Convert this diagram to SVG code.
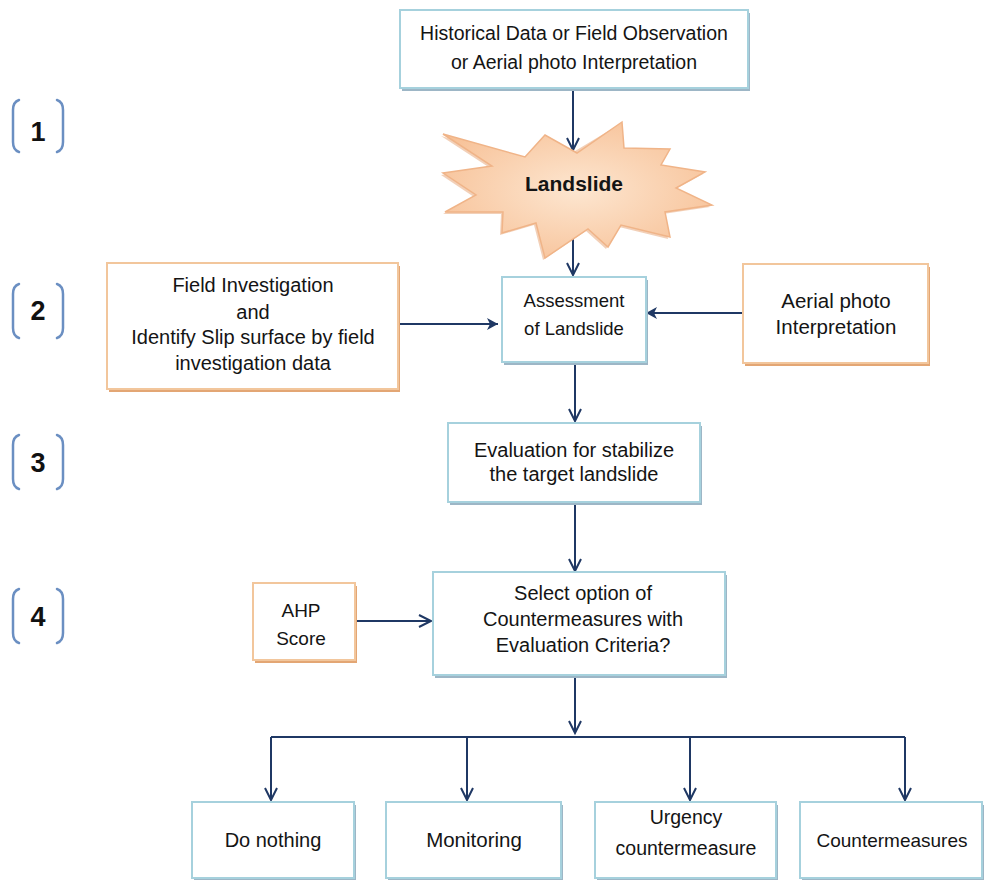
<svg xmlns="http://www.w3.org/2000/svg" width="984" height="880" viewBox="0 0 984 880">
<defs>
<style>
.t{font-family:"Liberation Sans",Arial,sans-serif;fill:#141414;text-anchor:middle}
.bb{fill:#ffffff;stroke:#a6d1dd;stroke-width:2}
.bs{fill:#9db6c6}
.ob{fill:#ffffff;stroke:#f2c69c;stroke-width:2}
.os{fill:#e3a674}
.c{fill:none;stroke:#1f3864;stroke-width:2}
.br{fill:none;stroke:#6b8fc2;stroke-width:2.5;stroke-linecap:round}
.num{font-family:"Liberation Sans",Arial,sans-serif;font-weight:bold;font-size:27px;fill:#111;text-anchor:middle}
</style>
<marker id="open" markerUnits="userSpaceOnUse" markerWidth="16" markerHeight="16" refX="13" refY="7" orient="auto">
<path d="M1,1 L13,7 L1,13" fill="none" stroke="#1f3864" stroke-width="2"/>
</marker>
<marker id="fill" markerUnits="userSpaceOnUse" markerWidth="14" markerHeight="14" refX="11" refY="6" orient="auto">
<path d="M0,0 L11,6 L0,12 L3,6 Z" fill="#1f3864"/>
</marker>
<radialGradient id="star" cx="50%" cy="50%" r="60%">
<stop offset="0" stop-color="#fde6d0"/>
<stop offset="1" stop-color="#f7c197"/>
</radialGradient>
<linearGradient id="bg" x1="0" y1="0" x2="0" y2="1">
<stop offset="0" stop-color="#ffffff"/>
<stop offset="1" stop-color="#f6f9fb"/>
</linearGradient>
</defs>
<rect width="984" height="880" fill="#ffffff"/>

<g id="brackets">
<path class="br" d="M19,100 Q13,102 13,110 L13,142 Q13,150 19,152"/>
<path class="br" d="M57,100 Q63,102 63,110 L63,142 Q63,150 57,152"/>
<text class="num" x="38" y="141">1</text>
<path class="br" d="M19,284 Q13,286 13,294 L13,328 Q13,336 19,338"/>
<path class="br" d="M57,284 Q63,286 63,294 L63,328 Q63,336 57,338"/>
<text class="num" x="38" y="320">2</text>
<path class="br" d="M19,435 Q13,437 13,445 L13,479 Q13,487 19,489"/>
<path class="br" d="M57,435 Q63,437 63,445 L63,479 Q63,487 57,489"/>
<text class="num" x="38" y="472">3</text>
<path class="br" d="M19,589 Q13,591 13,599 L13,633 Q13,641 19,643"/>
<path class="br" d="M57,589 Q63,591 63,599 L63,633 Q63,641 57,643"/>
<text class="num" x="38" y="626">4</text>
</g>

<g id="connectors">
<path class="c" d="M573,88 V150" marker-end="url(#open)"/>
<path class="c" d="M573,214 V275" marker-end="url(#open)"/>
<path class="c" d="M398,324 H498" marker-end="url(#fill)"/>
<path class="c" d="M743,313 H646" marker-end="url(#fill)"/>
<path class="c" d="M575,362 V421" marker-end="url(#open)"/>
<path class="c" d="M575,502 V571" marker-end="url(#open)"/>
<path class="c" d="M355,621 H431" marker-end="url(#open)"/>
<path class="c" d="M575,675 V733" marker-end="url(#open)"/>
<path class="c" d="M271,737 H905"/>
<path class="c" d="M271,737 V800" marker-end="url(#open)"/>
<path class="c" d="M467,737 V800" marker-end="url(#open)"/>
<path class="c" d="M690,737 V800" marker-end="url(#open)"/>
<path class="c" d="M905,737 V800" marker-end="url(#open)"/>
</g>

<g id="n-source">
<rect class="bs" x="402" y="13" width="348" height="78"/>
<rect class="bb" x="400" y="10" width="348" height="78" fill="url(#bg)"/>
<text class="t" x="574" y="40" font-size="19.5">Historical Data or Field Observation</text>
<text class="t" x="574" y="69" font-size="19.5">or Aerial photo Interpretation</text>
</g>

<g id="n-landslide">
<polygon points="441,136 523,159 543,137 575,151 620,124 622,150 668,151 659,167 703,174 674,190 710,207 663,214 668,239 619,227 606,249 586,231 543,260 534,225 500,235 501,214 443,214 474,197 441,175 490,168" fill="#e9b088" opacity="0.6"/>
<polygon points="443,134 525,157 545,135 577,153 622,122 624,148 670,149 661,165 705,172 676,188 712,205 665,212 670,237 621,225 608,247 588,229 545,258 536,223 502,233 503,212 445,212 476,195 443,173 492,166" fill="url(#star)" stroke="#f0b488" stroke-width="1.5" stroke-linejoin="miter"/>
<text class="t" x="574" y="191" font-size="21" font-weight="bold">Landslide</text>
</g>

<g id="n-field">
<rect class="os" x="109" y="266" width="291" height="126"/>
<rect class="ob" x="107" y="263" width="291" height="126"/>
<text class="t" x="253" y="292" font-size="20">Field Investigation</text>
<text class="t" x="253" y="319" font-size="20">and</text>
<text class="t" x="253" y="344" font-size="20">Identify Slip surface by field</text>
<text class="t" x="253" y="370" font-size="20">investigation data</text>
</g>

<g id="n-assessment">
<rect class="bs" x="504" y="280" width="144" height="85"/>
<rect class="bb" x="502" y="277" width="144" height="85" fill="url(#bg)"/>
<text class="t" x="574" y="307" font-size="18.5">Assessment</text>
<text class="t" x="574" y="335" font-size="18.5">of Landslide</text>
</g>

<g id="n-aerial">
<rect class="os" x="745" y="267" width="185" height="99"/>
<rect class="ob" x="743" y="264" width="185" height="99"/>
<text class="t" x="836" y="308" font-size="20.5">Aerial photo</text>
<text class="t" x="836" y="334" font-size="20.5">Interpretation</text>
</g>

<g id="n-evaluation">
<rect class="bs" x="450" y="426" width="252" height="79"/>
<rect class="bb" x="448" y="423" width="252" height="79" fill="url(#bg)"/>
<text class="t" x="574" y="457" font-size="20">Evaluation for stabilize</text>
<text class="t" x="574" y="481" font-size="20">the target landslide</text>
</g>

<g id="n-ahp">
<rect class="os" x="255" y="586" width="102" height="77"/>
<rect class="ob" x="253" y="583" width="102" height="77"/>
<text class="t" x="301" y="617" font-size="19">AHP</text>
<text class="t" x="301" y="645" font-size="19">Score</text>
</g>

<g id="n-select">
<rect class="bs" x="435" y="575" width="292" height="103"/>
<rect class="bb" x="433" y="572" width="292" height="103" fill="url(#bg)"/>
<text class="t" x="583" y="600" font-size="20">Select option of</text>
<text class="t" x="583" y="626" font-size="20">Countermeasures with</text>
<text class="t" x="583" y="652" font-size="20">Evaluation Criteria?</text>
</g>

<g id="n-donothing">
<rect class="bs" x="194" y="805" width="162" height="76"/>
<rect class="bb" x="192" y="802" width="162" height="76" fill="url(#bg)"/>
<text class="t" x="273" y="847" font-size="20">Do nothing</text>
</g>

<g id="n-monitoring">
<rect class="bs" x="388" y="805" width="175" height="76"/>
<rect class="bb" x="386" y="802" width="175" height="76" fill="url(#bg)"/>
<text class="t" x="474" y="847" font-size="20.5">Monitoring</text>
</g>

<g id="n-urgency">
<rect class="bs" x="597" y="805" width="181" height="76"/>
<rect class="bb" x="595" y="802" width="181" height="76" fill="url(#bg)"/>
<text class="t" x="686" y="824" font-size="19.5">Urgency</text>
<text class="t" x="686" y="855" font-size="19.5">countermeasure</text>
</g>

<g id="n-countermeasures">
<rect class="bs" x="802" y="805" width="182" height="76"/>
<rect class="bb" x="800" y="802" width="182" height="76" fill="url(#bg)"/>
<text class="t" x="892" y="847" font-size="19">Countermeasures</text>
</g>
</svg>
